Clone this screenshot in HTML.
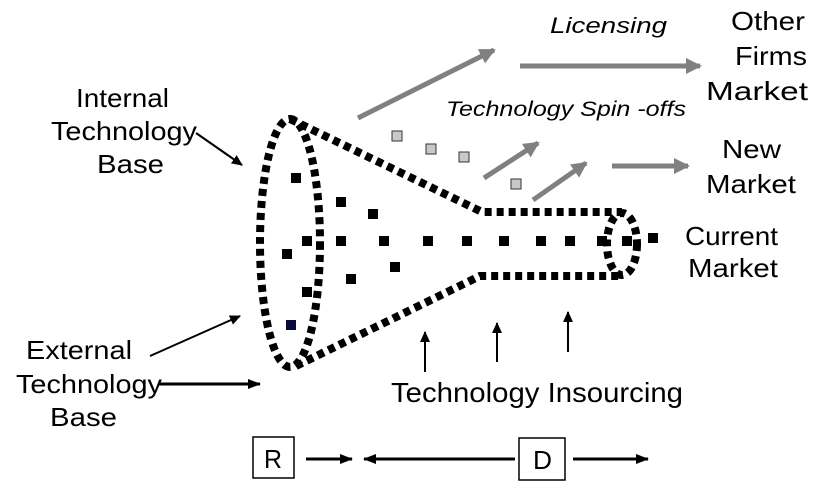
<!DOCTYPE html>
<html><head><meta charset="utf-8"><style>
html,body{margin:0;padding:0;background:#fff;}
svg{display:block;}
text{font-family:"Liberation Sans",Arial,sans-serif;fill:#000;}
</style></head><body>
<svg width="818" height="490" viewBox="0 0 818 490" xmlns="http://www.w3.org/2000/svg">
<defs>
<marker id="ga" markerWidth="18" markerHeight="18" refX="14" refY="9" orient="auto" markerUnits="userSpaceOnUse"><path d="M0,1 L16,9 L0,17 z" fill="#808080"/></marker>
<marker id="ba" markerWidth="12" markerHeight="12" refX="10" refY="6" orient="auto" markerUnits="userSpaceOnUse"><path d="M0,1 L11,6 L0,11 z" fill="#000"/></marker>
<marker id="bb" markerWidth="14" markerHeight="14" refX="12" refY="7" orient="auto" markerUnits="userSpaceOnUse"><path d="M0,2 L13,7 L0,12 z" fill="#000"/></marker>
</defs>
<g fill="none" stroke="#000" stroke-width="8" stroke-dasharray="7 5">
<ellipse cx="290" cy="243" rx="30" ry="124"/>
<path d="M290,119 L482,212 L622,212"/>
<path d="M296,366 L480,276 L622,276"/>
<ellipse cx="622" cy="244" rx="15" ry="31"/>
</g>
<g fill="#000">
<rect x="291" y="173" width="10" height="10"/><rect x="336" y="197" width="10" height="10"/><rect x="368" y="209" width="10" height="10"/>
<rect x="302" y="236" width="10" height="10"/><rect x="336" y="236" width="10" height="10"/><rect x="379" y="236" width="10" height="10"/>
<rect x="423" y="236" width="10" height="10"/><rect x="462" y="236" width="10" height="10"/><rect x="499" y="236" width="10" height="10"/>
<rect x="536" y="236" width="10" height="10"/><rect x="565" y="236" width="10" height="10"/><rect x="597" y="236" width="10" height="10"/>
<rect x="622" y="236" width="10" height="10"/><rect x="648" y="233" width="10" height="10"/>
<rect x="282" y="249" width="10" height="10"/><rect x="390" y="262" width="10" height="10"/><rect x="346" y="274" width="10" height="10"/>
<rect x="302" y="287" width="10" height="10"/><rect x="286" y="320" width="10" height="10" fill="#0a0a3a"/>
</g>
<g fill="#c8c8c8" stroke="#333" stroke-width="1">
<rect x="392" y="131" width="10" height="10"/><rect x="426" y="144" width="10" height="10"/><rect x="459" y="152" width="10" height="10"/><rect x="511" y="179" width="10" height="10"/>
</g>
<g stroke="#808080" stroke-width="5" fill="none" marker-end="url(#ga)">
<line x1="358" y1="118" x2="494" y2="50"/>
<line x1="520" y1="66" x2="700" y2="66"/>
<line x1="484" y1="178" x2="538" y2="143"/>
<line x1="533" y1="200" x2="586" y2="163"/>
<line x1="612" y1="166" x2="688" y2="166"/>
</g>
<g stroke="#000" stroke-width="2" fill="none" marker-end="url(#ba)">
<line x1="196" y1="133" x2="242" y2="165"/>
<line x1="150" y1="356" x2="240" y2="316"/>
<line x1="425" y1="372" x2="425" y2="332"/>
<line x1="497" y1="362" x2="497" y2="323"/>
<line x1="568" y1="352" x2="568" y2="312"/>
</g>
<g stroke="#000" stroke-width="3" fill="none" marker-end="url(#bb)">
<line x1="158" y1="384" x2="260" y2="384"/>
<line x1="306" y1="459" x2="352" y2="459"/>
<line x1="515" y1="459" x2="364" y2="459"/>
<line x1="573" y1="459" x2="648" y2="459"/>
</g>
<rect x="253" y="437" width="41" height="41" fill="#fff" stroke="#000" stroke-width="1.5"/>
<rect x="519" y="438" width="46" height="42" fill="#fff" stroke="#000" stroke-width="1.5"/>
<g font-size="26">
<text x="264" y="468" textLength="18" lengthAdjust="spacingAndGlyphs">R</text>
<text x="533" y="469" textLength="19" lengthAdjust="spacingAndGlyphs">D</text>
<text x="76" y="107" textLength="93" lengthAdjust="spacingAndGlyphs">Internal</text>
<text x="51" y="140" textLength="146" lengthAdjust="spacingAndGlyphs">Technology</text>
<text x="97" y="173" textLength="67" lengthAdjust="spacingAndGlyphs">Base</text>
<text x="26" y="359" textLength="106" lengthAdjust="spacingAndGlyphs">External</text>
<text x="16" y="393" textLength="146" lengthAdjust="spacingAndGlyphs">Technology</text>
<text x="50" y="426" textLength="67" lengthAdjust="spacingAndGlyphs">Base</text>
<text x="731" y="30" textLength="74" lengthAdjust="spacingAndGlyphs">Other</text>
<text x="735" y="65" textLength="72" lengthAdjust="spacingAndGlyphs">Firms</text>
<text x="706" y="100" textLength="102" lengthAdjust="spacingAndGlyphs">Market</text>
<text x="722" y="158" textLength="59" lengthAdjust="spacingAndGlyphs">New</text>
<text x="706" y="193" textLength="90" lengthAdjust="spacingAndGlyphs">Market</text>
<text x="685" y="245" textLength="93" lengthAdjust="spacingAndGlyphs">Current</text>
<text x="688" y="277" textLength="90" lengthAdjust="spacingAndGlyphs">Market</text>
</g>
<text x="391" y="402" font-size="28" textLength="292" lengthAdjust="spacingAndGlyphs">Technology Insourcing</text>
<text x="550" y="33" font-size="22" font-style="italic" textLength="117" lengthAdjust="spacingAndGlyphs">Licensing</text>
<text x="446" y="116" font-size="21" font-style="italic" textLength="240" lengthAdjust="spacingAndGlyphs">Technology Spin -offs</text>
</svg>
</body></html>
